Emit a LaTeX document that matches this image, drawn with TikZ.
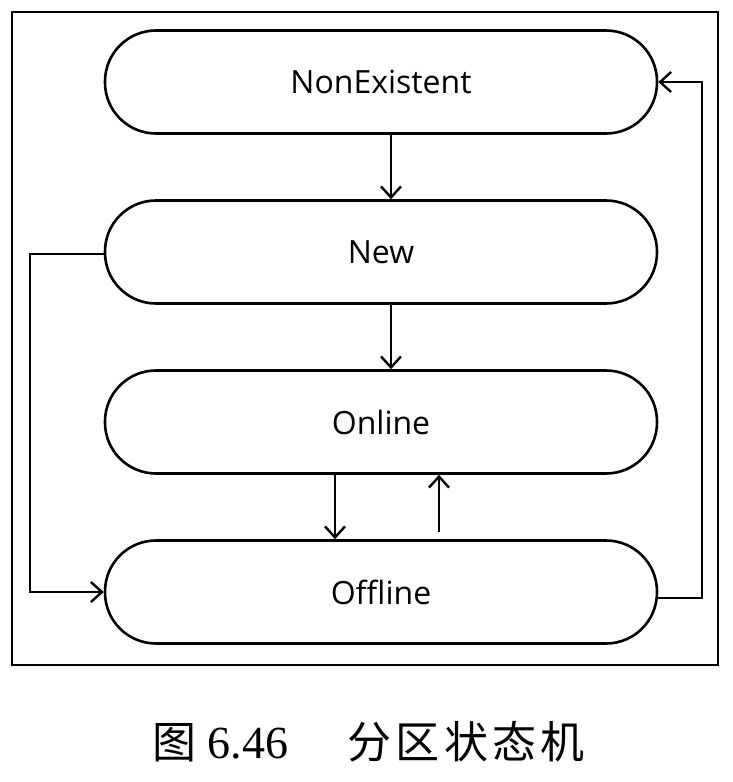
\documentclass[tikz,border=0pt]{standalone}
\usepackage{fontspec}
\setmainfont{Open Sans}
\newfontfamily\cjk[LetterSpace=10]{Noto Sans CJK SC}
\newfontfamily\capnum{Liberation Serif}
\usetikzlibrary{arrows.meta}
\begin{document}
\begin{tikzpicture}[x=1pt,y=-1pt,
  state/.style={draw, line width=2.6pt, rounded corners=51pt, minimum width=552pt, minimum height=103pt, inner sep=0pt, font=\fontsize{32}{38}\selectfont},
  conn/.style={line width=2.4pt, -{Straight Barb[length=11pt,width=20pt,line width=2.4pt]}},
  capt/.style={inner sep=0pt, anchor=base, font=\fontsize{44}{50}\selectfont}]
\useasboundingbox (0,0) rectangle (732,782);
\node[draw, line width=2.2pt, minimum width=706pt, minimum height=653pt, inner sep=0pt] (frame) at (365,338.5) {};
\node[state] (ne) at (381,82) {NonExistent};
\node[state] (new) at (381,252) {New};
\node[state] (on) at (381,422) {Online};
\node[state] (off) at (381,592) {Offline};
\coordinate (lx) at (30,0);
\coordinate (rx) at (702,0);
\draw[conn] ([xshift=10pt]ne.south) -- ([xshift=10pt]new.north);
\draw[conn] ([xshift=10pt]new.south) -- ([xshift=10pt]on.north);
\draw[conn] ([xshift=-46pt]on.south) -- ([xshift=-46pt]off.north);
\draw[conn] ([xshift=58pt,yshift=7pt]off.north) -- ([xshift=58pt]on.south);
\draw[conn] ([yshift=-2pt]new.west) -| (lx |- off.west) -- (off.west);
\draw[conn] ([yshift=-6pt]off.east) -| (rx |- ne.east) -- (ne.east);
\node[capt] (c1) at (174,758) {\cjk 图};
\node[capt, font=\fontsize{46}{52}\selectfont] (c2) at (248,758) {\capnum 6.46};
\node[capt] (c3) at (466,758) {\cjk 分区状态机};
\end{tikzpicture}
\end{document}
